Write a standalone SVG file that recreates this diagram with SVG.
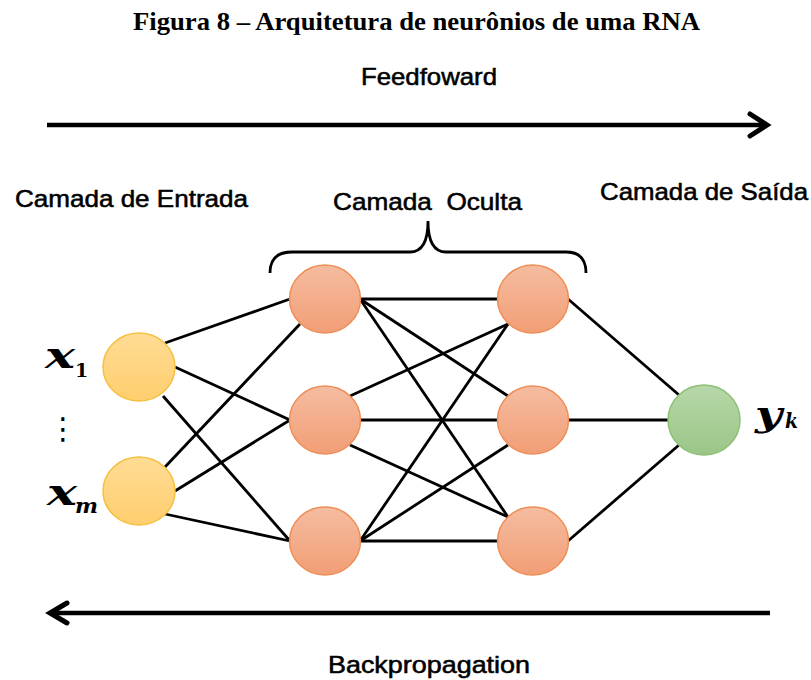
<svg xmlns="http://www.w3.org/2000/svg" width="811" height="680" viewBox="0 0 811 680">
<defs>
<linearGradient id="gIn" x1="0" y1="0" x2="0" y2="1"><stop offset="0" stop-color="#FFDC94"/><stop offset="1" stop-color="#FFCE6E"/></linearGradient>
<linearGradient id="gHid" x1="0" y1="0" x2="0" y2="1"><stop offset="0" stop-color="#F5BCA0"/><stop offset="1" stop-color="#F29E76"/></linearGradient>
<linearGradient id="gOut" x1="0" y1="0" x2="0" y2="1"><stop offset="0" stop-color="#B7D7A9"/><stop offset="1" stop-color="#9BC687"/></linearGradient>
</defs>
<style>
.lbl{font-family:"Liberation Sans",Arial,sans-serif;font-size:24px;fill:#000;stroke:#000;stroke-width:0.55}
.title{font-family:"Liberation Serif","Times New Roman",serif;font-size:26px;font-weight:bold;fill:#000}
.math{font-family:"DejaVu Serif","Liberation Serif",serif;font-weight:bold;font-style:italic;fill:#000}
.sub{font-family:"DejaVu Serif","Liberation Serif",serif;font-weight:bold;fill:#000}
.dots{font-family:"DejaVu Sans",sans-serif;fill:#000}
.edge{stroke:#000;stroke-width:2.8;fill:none}
.arrow{stroke:#000;stroke-width:4.5;fill:none}
.head{stroke:#000;stroke-width:5;fill:none;stroke-linecap:round;stroke-linejoin:miter}
.in{fill:url(#gIn);stroke:#F5C040;stroke-width:1.5}
.hid{fill:url(#gHid);stroke:#EE8E56;stroke-width:1.5}
.out{fill:url(#gOut);stroke:#8DBF74;stroke-width:1.5}
</style>
<rect width="811" height="680" fill="#fff"/>
<text class="title" x="133" y="30" textLength="567" lengthAdjust="spacingAndGlyphs">Figura 8 – Arquitetura de neurônios de uma RNA</text>
<text class="lbl" x="361" y="85" textLength="136" lengthAdjust="spacingAndGlyphs">Feedfoward</text>
<g id="arrows">
<line class="arrow" x1="47" y1="125" x2="766" y2="125"/>
<polyline class="head" points="750,114 767,125 750,136"/>
<line class="arrow" x1="51" y1="613" x2="770" y2="613"/>
<polyline class="head" points="67,603 50,613 67,623"/>
</g>
<text class="lbl" x="15" y="207" textLength="233" lengthAdjust="spacingAndGlyphs">Camada de Entrada</text>
<text class="lbl" x="333" y="210" textLength="189" lengthAdjust="spacingAndGlyphs" xml:space="preserve">Camada  Oculta</text>
<text class="lbl" x="600" y="200" textLength="208" lengthAdjust="spacingAndGlyphs">Camada de Saída</text>
<text class="lbl" x="328" y="673" textLength="202" lengthAdjust="spacingAndGlyphs">Backpropagation</text>
<path id="brace" class="edge" d="M270,273 Q270,252 292,252 L410,252 Q428,252 428,221 Q428,252 446,252 L566,252 Q586,252 586,273"/>
<g id="connectors">
<line class="edge" x1="165" y1="343" x2="290" y2="299"/>
<line class="edge" x1="175" y1="367" x2="290" y2="420"/>
<line class="edge" x1="163" y1="396" x2="290" y2="541"/>
<line class="edge" x1="165" y1="467" x2="300" y2="324"/>
<line class="edge" x1="175" y1="491" x2="290" y2="420"/>
<line class="edge" x1="165" y1="514" x2="290" y2="541"/>
<line class="edge" x1="360" y1="299" x2="498" y2="299"/>
<line class="edge" x1="360" y1="299" x2="508" y2="396"/>
<line class="edge" x1="360" y1="299" x2="508" y2="517"/>
<line class="edge" x1="350" y1="396" x2="508" y2="324"/>
<line class="edge" x1="360" y1="420" x2="498" y2="420"/>
<line class="edge" x1="350" y1="445" x2="508" y2="517"/>
<line class="edge" x1="360" y1="541" x2="508" y2="324"/>
<line class="edge" x1="360" y1="541" x2="508" y2="445"/>
<line class="edge" x1="360" y1="541" x2="498" y2="541"/>
<line class="edge" x1="568" y1="299" x2="679" y2="395"/>
<line class="edge" x1="568" y1="420" x2="668" y2="420"/>
<line class="edge" x1="568" y1="541" x2="679" y2="445"/>
</g>
<g id="x1"><ellipse class="in" cx="139" cy="367" rx="36" ry="34"/></g>
<g id="xm"><ellipse class="in" cx="139" cy="491" rx="36" ry="34"/></g>
<g id="h11"><ellipse class="hid" cx="325" cy="299" rx="35.5" ry="34"/></g>
<g id="h12"><ellipse class="hid" cx="325" cy="420" rx="35.5" ry="34"/></g>
<g id="h13"><ellipse class="hid" cx="325" cy="541" rx="35.5" ry="34"/></g>
<g id="h21"><ellipse class="hid" cx="533" cy="299" rx="35.5" ry="34"/></g>
<g id="h22"><ellipse class="hid" cx="533" cy="420" rx="35.5" ry="34"/></g>
<g id="h23"><ellipse class="hid" cx="533" cy="541" rx="35.5" ry="34"/></g>
<g id="yk"><ellipse class="out" cx="704" cy="420" rx="36" ry="35"/></g>
<text class="math" x="45" y="368" font-size="37" textLength="30" lengthAdjust="spacingAndGlyphs">x</text>
<text class="sub" x="75" y="377" font-size="19">1</text>
<text class="math" x="47" y="505" font-size="37" textLength="30" lengthAdjust="spacingAndGlyphs">x</text>
<text class="math" x="75" y="513" font-size="21" textLength="23" lengthAdjust="spacingAndGlyphs">m</text>
<text class="dots" x="63" y="439" font-size="30" text-anchor="middle">⋮</text>
<text class="math" x="755" y="426" font-size="36" textLength="27" lengthAdjust="spacingAndGlyphs">y</text>
<text class="math" x="785" y="428" font-size="20" textLength="13" lengthAdjust="spacingAndGlyphs">k</text>
</svg>
